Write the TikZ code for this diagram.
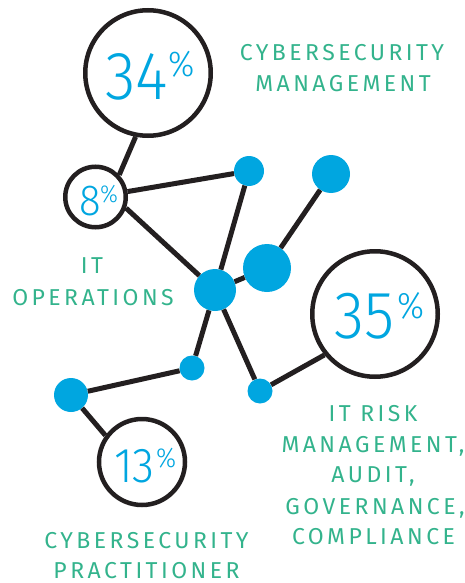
\documentclass[tikz,border=0pt]{standalone}
\usepackage{fontspec}
\setmainfont{Fira Sans}
\newfontfamily\labfont[LetterSpace=15]{Fira Sans}
\newfontfamily\numfont[FakeStretch=0.92]{Fira Sans Light}
\definecolor{ink}{HTML}{231F20}
\definecolor{dotblue}{HTML}{00A6E0}
\definecolor{labgreen}{HTML}{33B38C}
\begin{document}
\begin{tikzpicture}[x=1pt,y=-1pt,
  ring/.style={circle,draw=ink,line width=4.5pt,fill=white,inner sep=0pt},
  dot/.style={circle,fill=dotblue,inner sep=0pt},
  link/.style={draw=ink,line width=5pt},
  lab/.style={text=labgreen,inner sep=0pt,anchor=base,text depth=0pt,font=\labfont\fontsize{23}{27}\selectfont},
  num/.style={text=dotblue,inner sep=0pt,anchor=base west}]
\useasboundingbox (0,0) rectangle (465,583);
% rings
\node[ring,minimum size=125.5pt] (c34) at (148,73) {};
\node[ring,minimum size=60.5pt] (c8) at (95.5,197) {};
\node[ring,minimum size=125.5pt] (c35) at (375,314) {};
\node[ring,minimum size=86pt] (c13) at (142,462) {};
% dots
\node[dot,minimum size=30pt] (d1) at (249,171) {};
\node[dot,minimum size=38pt] (d2) at (331,174) {};
\node[dot,minimum size=48pt] (d3) at (267,268) {};
\node[dot,minimum size=42pt] (d4) at (215,290) {};
\node[dot,minimum size=25pt] (d5) at (192,368) {};
\node[dot,minimum size=25pt] (d6) at (260,391) {};
\node[dot,minimum size=34pt] (d7) at (71,395) {};
% links
\draw[link] (c34.259) -- (c8.43);
\draw[link] (c8) -- (d1);
\draw[link] (c8.340) -- (d4);
\draw[link] (d1) -- (d4);
\draw[link] (d2) -- (d3);
\draw[link] (d3) -- (d4);
\draw[link] (d4) -- (d5);
\draw[link] (d4) -- (d6);
\draw[link] (d6) -- (c35.219);
\draw[link] (d5) -- (d7);
\draw[link] (d7) -- (c13.144);
% numbers
\node[num,font=\numfont\fontsize{68}{68}\selectfont] (n34) at (105,100) {34};
\node[num,font=\numfont\fontsize{36}{36}\selectfont] (p34) at (168,77) {\%};
\node[num,font=\numfont\fontsize{43.5}{44}\selectfont] (n8) at (79,215) {8};
\node[num,font=\numfont\fontsize{24.5}{25}\selectfont] (p8) at (100,202) {\%};
\node[num,font=\numfont\fontsize{67}{67}\selectfont] (n35) at (334,338) {35};
\node[num,font=\numfont\fontsize{37}{37}\selectfont] (p35) at (397,318) {\%};
\node[num,font=\numfont\fontsize{49}{49}\selectfont] (n13) at (114,482) {13};
\node[num,font=\numfont\fontsize{27.5}{28}\selectfont] (p13) at (156,467) {\%};
% labels
\node[lab] (la1) at (342,61) {CYBERSECURITY};
\node[lab] (la2) at (343,92) {MANAGEMENT};
\node[lab] (lb1) at (92,273) {IT};
\node[lab] (lb2) at (93,305) {OPERATIONS};
\node[lab] (lc1) at (373,421) {IT RISK};
\node[lab] (lc2) at (373,452) {MANAGEMENT,};
\node[lab] (lc3) at (373,482) {AUDIT,};
\node[lab] (lc4) at (375,514) {GOVERNANCE,};
\node[lab] (lc5) at (373.5,544) {COMPLIANCE};
\node[lab] (ld1) at (146.5,548) {CYBERSECURITY};
\node[lab] (ld2) at (146.5,578.5) {PRACTITIONER};
\end{tikzpicture}
\end{document}
